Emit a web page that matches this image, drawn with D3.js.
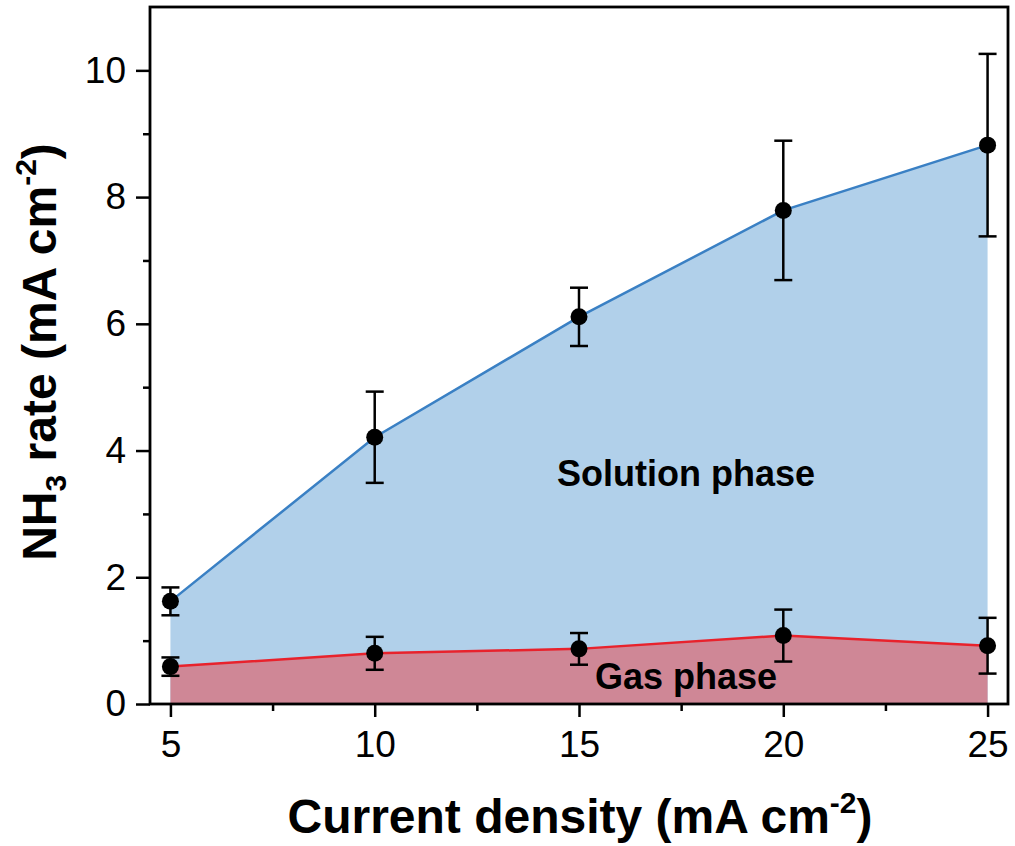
<!DOCTYPE html>
<html>
<head>
<meta charset="utf-8">
<script src="https://cdn.jsdelivr.net/npm/d3@7"></script>
<style>
  html, body { margin: 0; padding: 0; background: #fff; }
  svg { display: block; font-family: "Liberation Sans", Arial, sans-serif; }
</style>
</head>
<body>
<svg id="chart" width="1015" height="846"></svg>
<script>
// Current density (mA cm^-2)
const currentDensity = [5, 10, 15, 20, 25];
// NH3 partial current in the solution phase and its error
const solutionRate = [1.62, 4.21, 6.11, 7.79, 8.82];
const solutionErr  = [0.22, 0.72, 0.46, 1.10, 1.44];
// NH3 partial current in the gas phase and its error
const gasRate = [0.59, 0.80, 0.87, 1.08, 0.92];
const gasErr  = [0.145, 0.26, 0.25, 0.41, 0.44];

const xMajorTicks = [5, 10, 15, 20, 25];
const xMinorTicks = [7.5, 12.5, 17.5, 22.5];
const yMajorTicks = [0, 2, 4, 6, 8, 10];
const yMinorTicks = [1, 3, 5, 7, 9];

const margin = { left: 150, top: 7, right: 7, bottom: 142 };
const W = 1015, H = 846;
const svg = d3.select("#chart");

const x = d3.scaleLinear().domain([4.5, 25.5]).range([margin.left, W - margin.right]);
const y = d3.scaleLinear().domain([0, 11]).range([H - margin.bottom, margin.top]);

const solution = currentDensity.map((c, i) => ({ c, v: solutionRate[i], e: solutionErr[i] }));
const gas = currentDensity.map((c, i) => ({ c, v: gasRate[i], e: gasErr[i] }));

const area = d3.area().x(d => x(d.c)).y0(y(0)).y1(d => y(d.v));
const line = d3.line().x(d => x(d.c)).y(d => y(d.v));

// filled regions
svg.append("path").datum(solution).attr("d", area).attr("fill", "#b1d0ea");
svg.append("path").datum(gas).attr("d", area).attr("fill", "#cf8796");

// boundary lines
svg.append("path").datum(solution).attr("d", line)
  .attr("fill", "none").attr("stroke", "#3a80c4").attr("stroke-width", 2.5);
svg.append("path").datum(gas).attr("d", line)
  .attr("fill", "none").attr("stroke", "#e8222c").attr("stroke-width", 2.5);

// region labels
svg.append("text").attr("x", 686).attr("y", 486).attr("text-anchor", "middle")
  .attr("font-size", 36).attr("font-weight", "bold").text("Solution phase");
svg.append("text").attr("x", 686).attr("y", 689).attr("text-anchor", "middle")
  .attr("font-size", 36).attr("font-weight", "bold").text("Gas phase");

// error bars and markers
function drawPoints(data) {
  const g = svg.append("g");
  const cap = 9;
  data.forEach(d => {
    const px = x(d.c), top = y(d.v + d.e), bot = y(d.v - d.e);
    g.append("line").attr("x1", px).attr("x2", px).attr("y1", top).attr("y2", bot)
      .attr("stroke", "#000").attr("stroke-width", 2.5);
    [top, bot].forEach(yy => g.append("line")
      .attr("x1", px - cap).attr("x2", px + cap).attr("y1", yy).attr("y2", yy)
      .attr("stroke", "#000").attr("stroke-width", 2.5));
    g.append("circle").attr("cx", px).attr("cy", y(d.v)).attr("r", 8.5).attr("fill", "#000");
  });
}
drawPoints(solution);
drawPoints(gas);

// axes
const axisColor = "#000";
function styleAxis(g) {
  g.selectAll("path.domain").remove();
  g.selectAll(".tick line").attr("stroke", axisColor).attr("stroke-width", 2.5);
}
const xAxis = svg.append("g").attr("transform", `translate(0,${y(0)})`)
  .call(d3.axisBottom(x).tickValues(xMajorTicks).tickSize(13).tickPadding(14).tickFormat(d3.format("d")))
  .call(styleAxis);
xAxis.selectAll("text").attr("font-size", 37).attr("fill", "#000")
  .style("font-family", "Liberation Sans, Arial, sans-serif");
svg.append("g").attr("transform", `translate(0,${y(0)})`)
  .call(d3.axisBottom(x).tickValues(xMinorTicks).tickSize(7).tickFormat(""))
  .call(styleAxis);

const yAxis = svg.append("g").attr("transform", `translate(${x(4.5)},0)`)
  .call(d3.axisLeft(y).tickValues(yMajorTicks).tickSize(14).tickPadding(10).tickFormat(d3.format("d")))
  .call(styleAxis);
yAxis.selectAll("text").attr("font-size", 37).attr("fill", "#000")
  .style("font-family", "Liberation Sans, Arial, sans-serif");
svg.append("g").attr("transform", `translate(${x(4.5)},0)`)
  .call(d3.axisLeft(y).tickValues(yMinorTicks).tickSize(7).tickFormat(""))
  .call(styleAxis);

// frame
svg.append("rect")
  .attr("x", x(4.5)).attr("y", y(11))
  .attr("width", x(25.5) - x(4.5)).attr("height", y(0) - y(11))
  .attr("fill", "none").attr("stroke", axisColor).attr("stroke-width", 2.8);

// axis titles
const xTitle = svg.append("text").attr("x", 580).attr("y", 833)
  .attr("text-anchor", "middle").attr("font-size", 48).attr("font-weight", "bold");
xTitle.append("tspan").text("Current density (mA cm");
xTitle.append("tspan").attr("font-size", 30).attr("dy", -20).text("-2");
xTitle.append("tspan").attr("dy", 20).text(")");

const yTitle = svg.append("text")
  .attr("transform", `translate(56,${352}) rotate(-90)`)
  .attr("text-anchor", "middle").attr("font-size", 48).attr("font-weight", "bold");
yTitle.append("tspan").text("NH");
yTitle.append("tspan").attr("font-size", 30).attr("dy", 10).text("3");
yTitle.append("tspan").attr("dy", -10).text(" rate (mA cm");
yTitle.append("tspan").attr("font-size", 30).attr("dy", -20).text("-2");
yTitle.append("tspan").attr("dy", 20).text(")");
</script>
</body>
</html>
